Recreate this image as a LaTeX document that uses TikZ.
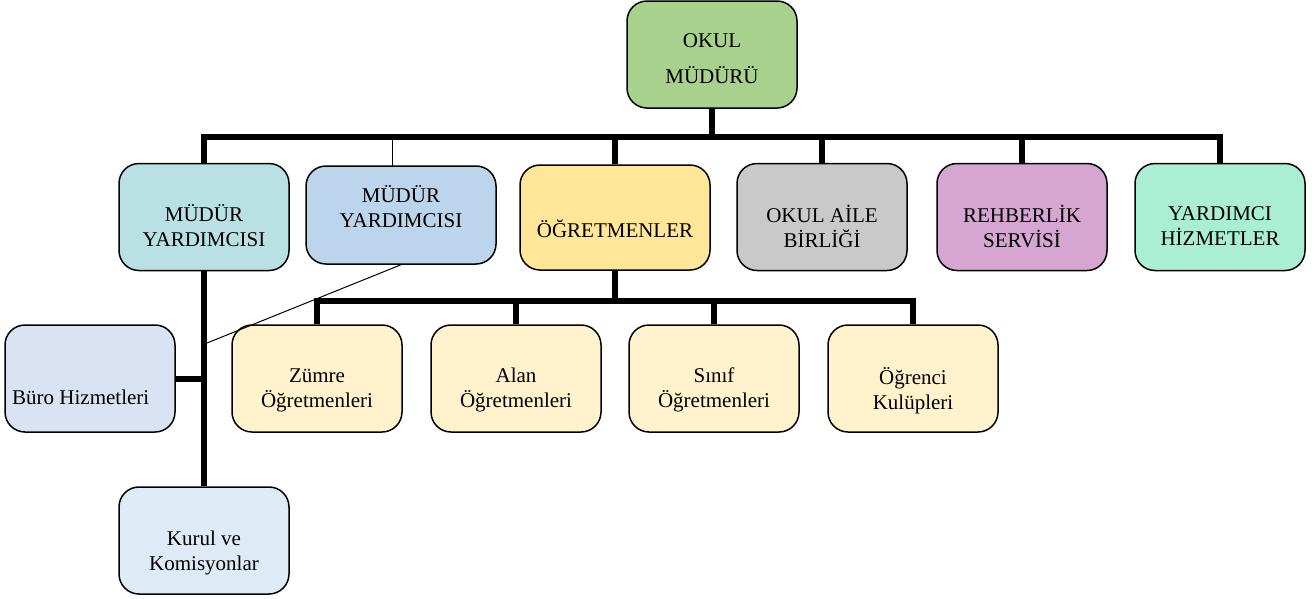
\documentclass[tikz,border=0pt]{standalone}
\usepackage{fontspec}
\setmainfont{Liberation Serif}
\definecolor{cMud}{HTML}{A9D18E}
\definecolor{cMy1}{HTML}{B9E0E2}
\definecolor{cMy2}{HTML}{BDD5EC}
\definecolor{cOgr}{HTML}{FFE699}
\definecolor{cAile}{HTML}{C9C9C9}
\definecolor{cReh}{HTML}{D4A6D1}
\definecolor{cYar}{HTML}{ABEED6}
\definecolor{cSub}{HTML}{FFF2CC}
\definecolor{cBuro}{HTML}{DAE3F3}
\definecolor{cKur}{HTML}{DEEAF6}
\begin{document}
\begin{tikzpicture}[x=1pt,y=-1pt,
  box/.style={draw=black, line width=1.5pt, rounded corners=20pt, inner sep=0pt, minimum width=170pt, minimum height=107pt},
  txt/.style={inner sep=0pt, align=center, font=\fontsize{21}{25}\selectfont},
  thk/.style={line width=6pt},
  thn/.style={line width=1pt}]
\useasboundingbox (0,0) rectangle (1315,598);
% boxes
\node[box, fill=cMud] (md) at (712,54.5) {};
\node[box, fill=cMy1] (my1) at (204,217) {};
\node[box, fill=cMy2, minimum width=190pt, minimum height=98pt] (my2) at (401,215) {};
\node[box, fill=cOgr, minimum width=190pt, minimum height=105pt] (og) at (615,217.5) {};
\node[box, fill=cAile] (ai) at (822,217) {};
\node[box, fill=cReh] (rs) at (1022,217) {};
\node[box, fill=cYar] (yh) at (1220,217) {};
\node[box, fill=cSub] (zm) at (317,378.5) {};
\node[box, fill=cSub] (al) at (516,378.5) {};
\node[box, fill=cSub] (sn) at (714,378.5) {};
\node[box, fill=cSub] (ok) at (913,378.5) {};
\node[box, fill=cBuro] (bh) at (90,378.5) {};
\node[box, fill=cKur] (kk) at (204,540.5) {};
% texts
\node[txt, font=\fontsize{21}{36}\selectfont] (mdT) at (712,58.5) {OKUL\\MÜDÜRÜ};
\node[txt] (my1T) at (204,226) {MÜDÜR\\YARDIMCISI};
\node[txt] (my2T) at (401,207) {MÜDÜR\\YARDIMCISI};
\node[txt] (ogT) at (615,229) {ÖĞRETMENLER};
\node[txt] (aiT) at (822,226) {OKUL AİLE\\BİRLİĞİ};
\node[txt] (rsT) at (1022,226) {REHBERLİK\\SERVİSİ};
\node[txt] (yhT) at (1220,226) {YARDIMCI\\HİZMETLER};
\node[txt] (zmT) at (317,390) {Zümre\\Öğretmenleri};
\node[txt] (alT) at (516,390) {Alan\\Öğretmenleri};
\node[txt] (snT) at (714,390) {Sınıf\\Öğretmenleri};
\node[txt] (okT) at (913,390.5) {Öğrenci\\Kulüpleri};
\node[txt, anchor=west] (bhT) at (12,397) {Büro Hizmetleri};
\node[txt] (kkT) at (204,553) {Kurul ve\\Komisyonlar};
% connectors
\coordinate (bar) at (0,137);
\coordinate (cbar) at (0,301);
\coordinate (my2top) at (392,166);
\coordinate (diagEnd) at (207,343);
\draw[thk] (md.south) -- (md.south |- bar);
\draw[thk] (my1.north) |- (yh.north |- bar) -- (yh.north);
\draw[thk] (og.north) -- (og.north |- bar);
\draw[thk] (ai.north) -- (ai.north |- bar);
\draw[thk] (rs.north) -- (rs.north |- bar);
\draw[thn] (my2top) -- (my2top |- bar);
\draw[thk] (og.south) -- (og.south |- cbar);
\draw[thk] (zm.north) |- (ok.north |- cbar) -- (ok.north);
\draw[thk] (al.north) -- (al.north |- cbar);
\draw[thk] (sn.north) -- (sn.north |- cbar);
\draw[thk] (my1.south) -- (kk.north);
\draw[thk] (bh.east) -- (bh.east -| my1.south);
\draw[thn] (my2.south) -- (diagEnd);
\end{tikzpicture}
\end{document}
